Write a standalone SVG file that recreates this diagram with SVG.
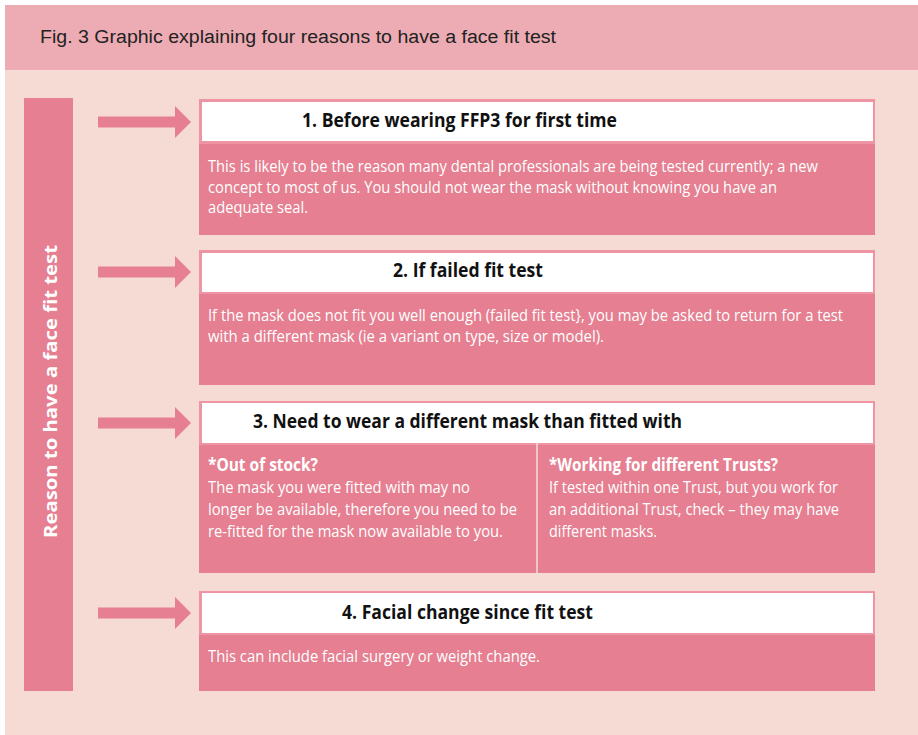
<svg xmlns="http://www.w3.org/2000/svg" width="918" height="735" viewBox="0 0 918 735">
<defs>
<style>
.body{fill:#E57F91}
.hdrb{fill:#EE94A4}
.hdr{fill:#FFFFFF}
.t{font-family:"Open Sans","Liberation Sans",sans-serif;font-size:20px;font-weight:bold;fill:#111111}
.b{font-family:"Open Sans","Liberation Sans",sans-serif;font-size:17px;fill:#FFFFFF}
.bb{font-family:"Open Sans","Liberation Sans",sans-serif;font-size:17px;font-weight:bold;fill:#FFFFFF}
.arrow{fill:#E57F91}
</style>
<polygon id="arr" points="0,-5.5 77,-5.5 77,-16 93,0 77,16 77,5.5 0,5.5"/>
</defs>
<rect x="0" y="0" width="918" height="735" fill="#FFFFFF"/>
<rect x="5" y="5" width="913" height="65" fill="#EDACB4"/>
<rect x="5" y="70" width="913" height="665" fill="#F6DBD5"/>
<text x="40" y="43" font-family="'Liberation Sans',sans-serif" font-size="18" fill="#222222" textLength="516" lengthAdjust="spacingAndGlyphs">Fig. 3  Graphic explaining four reasons to have a face fit test</text>

<g id="side">
<rect x="24" y="98" width="49" height="593" class="body"/>
<text transform="translate(57,538) rotate(-90)" class="bb" font-size="21" textLength="293" lengthAdjust="spacingAndGlyphs">Reason to have a face fit test</text>
</g>

<g id="connectors" class="arrow">
<use href="#arr" x="98" y="122"/>
<use href="#arr" x="98" y="272"/>
<use href="#arr" x="98" y="423"/>
<use href="#arr" x="98" y="613"/>
</g>

<g id="box1">
<rect x="199" y="99" width="676" height="136" class="body"/>
<rect x="199" y="99" width="676" height="45" class="hdrb"/>
<rect x="202" y="102" width="671" height="39" class="hdr"/>
<text x="302" y="127" class="t" textLength="315" lengthAdjust="spacingAndGlyphs">1. Before wearing FFP3 for first time</text>
<text x="208" y="172" class="b" textLength="610" lengthAdjust="spacingAndGlyphs">This is likely to be the reason many dental professionals are being tested currently; a new</text>
<text x="208" y="192.5" class="b" textLength="569" lengthAdjust="spacingAndGlyphs">concept to most of us. You should not wear the mask without knowing you have an</text>
<text x="208" y="213" class="b" textLength="100" lengthAdjust="spacingAndGlyphs">adequate seal.</text>
</g>

<g id="box2">
<rect x="199" y="250" width="676" height="135" class="body"/>
<rect x="199" y="250" width="676" height="44" class="hdrb"/>
<rect x="202" y="253" width="671" height="39" class="hdr"/>
<text x="393" y="277" class="t" textLength="150" lengthAdjust="spacingAndGlyphs">2. If failed fit test</text>
<text x="208" y="321" class="b" textLength="635" lengthAdjust="spacingAndGlyphs">If the mask does not fit you well enough (failed fit test}, you may be asked to return for a test</text>
<text x="208" y="342" class="b" textLength="396" lengthAdjust="spacingAndGlyphs">with a different mask (ie a variant on type, size or model).</text>
</g>

<g id="box3">
<rect x="199" y="401" width="676" height="172" class="body"/>
<rect x="199" y="401" width="676" height="44" class="hdrb"/>
<rect x="202" y="403" width="671" height="40" class="hdr"/>
<line x1="537" y1="443" x2="537" y2="573" stroke="#F6DBD5" stroke-width="1.5"/>
<text x="253" y="428" class="t" textLength="429" lengthAdjust="spacingAndGlyphs">3. Need to wear a different mask than fitted with</text>
<text x="208" y="471" class="bb" textLength="110" lengthAdjust="spacingAndGlyphs">*Out of stock?</text>
<text x="208" y="493" class="b" textLength="262" lengthAdjust="spacingAndGlyphs">The mask you were fitted with may no</text>
<text x="208" y="515" class="b" textLength="309" lengthAdjust="spacingAndGlyphs">longer be available, therefore you need to be</text>
<text x="208" y="537" class="b" textLength="295" lengthAdjust="spacingAndGlyphs">re-fitted for the mask now available to you.</text>
<text x="549" y="471" class="bb" textLength="229" lengthAdjust="spacingAndGlyphs">*Working for different Trusts?</text>
<text x="549" y="493" class="b" textLength="289" lengthAdjust="spacingAndGlyphs">If tested within one Trust, but you work for</text>
<text x="549" y="515" class="b" textLength="290" lengthAdjust="spacingAndGlyphs">an additional Trust, check – they may have</text>
<text x="549" y="537" class="b" textLength="108" lengthAdjust="spacingAndGlyphs">different masks.</text>
</g>

<g id="box4">
<rect x="199" y="591" width="676" height="100" class="body"/>
<rect x="199" y="591" width="676" height="44" class="hdrb"/>
<rect x="202" y="593" width="671" height="40" class="hdr"/>
<text x="342" y="619" class="t" textLength="251" lengthAdjust="spacingAndGlyphs">4. Facial change since fit test</text>
<text x="208" y="662" class="b" textLength="332" lengthAdjust="spacingAndGlyphs">This can include facial surgery or weight change.</text>
</g>
</svg>
